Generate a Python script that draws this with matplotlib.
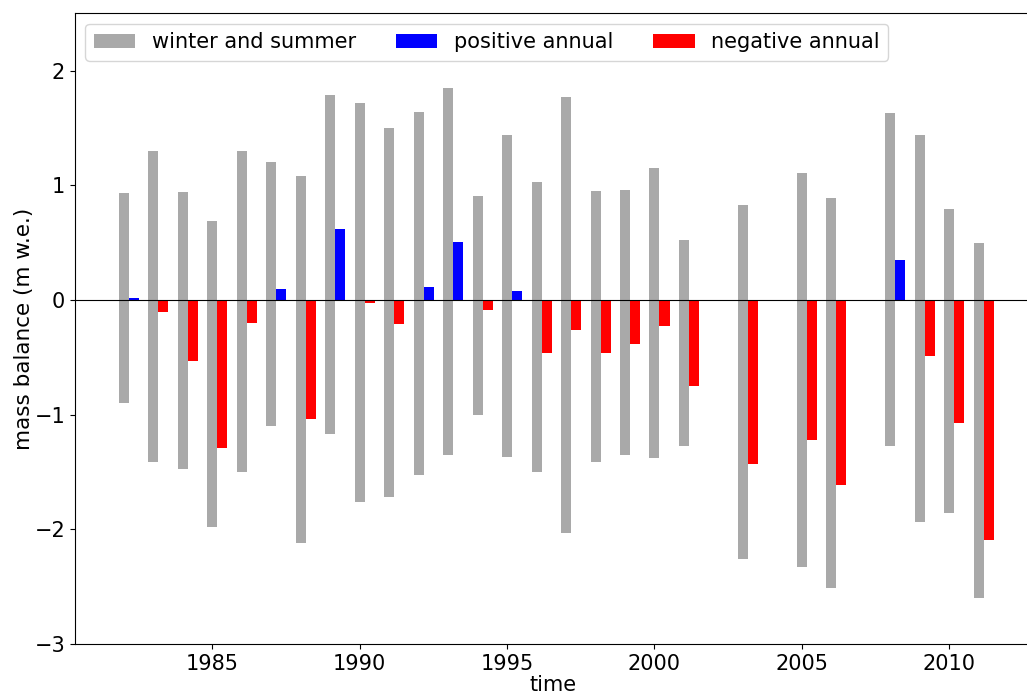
import matplotlib
matplotlib.use("Agg")
import matplotlib.pyplot as plt
import numpy as np

years = [1982, 1983, 1984, 1985, 1986, 1987, 1988, 1989, 1990, 1991, 1992, 1993, 1994,
         1995, 1996, 1997, 1998, 1999, 2000, 2001, 2003, 2005, 2006, 2008, 2009, 2010, 2011]
winter = [0.93, 1.30, 0.94, 0.69, 1.30, 1.20, 1.08, 1.79, 1.72, 1.50, 1.64, 1.85, 0.91,
          1.44, 1.03, 1.77, 0.95, 0.96, 1.15, 0.52, 0.83, 1.11, 0.89, 1.63, 1.44, 0.79, 0.50]
summer = [-0.90, -1.41, -1.47, -1.98, -1.50, -1.10, -2.12, -1.17, -1.76, -1.72, -1.53, -1.35, -1.00,
          -1.37, -1.50, -2.03, -1.41, -1.35, -1.38, -1.27, -2.26, -2.33, -2.51, -1.27, -1.94, -1.86, -2.60]
annual = [0.02, -0.10, -0.53, -1.29, -0.20, 0.10, -1.04, 0.62, -0.03, -0.21, 0.11, 0.51, -0.09,
          0.08, -0.46, -0.26, -0.46, -0.38, -0.23, -0.75, -1.43, -1.22, -1.61, 0.35, -0.49, -1.07, -2.09]

years_a = np.array(years, dtype=float)
winter_a = np.array(winter)
summer_a = np.array(summer)
annual_a = np.array(annual)

fig = plt.figure(figsize=(10.27, 6.96), dpi=100)
ax = fig.add_axes([0.073, 0.0747, 0.932, 0.906])

w = 0.34
ax.bar(years_a, winter_a, width=w, color='darkgray', label='winter and summer')
ax.bar(years_a, summer_a, width=w, color='darkgray')
pos = annual_a >= 0
ax.bar(years_a[pos] + w, annual_a[pos], width=w, color='blue', label='positive annual')
ax.bar(years_a[~pos] + w, annual_a[~pos], width=w, color='red', label='negative annual')
ax.axhline(0, color='black', lw=0.8)

ax.set_xlim(1980.343, 2012.81)
ax.set_ylim(-3, 2.5)
ax.set_yticks([-3, -2, -1, 0, 1, 2])
ax.set_xticks([1985, 1990, 1995, 2000, 2005, 2010])
ax.tick_params(labelsize=15)
ax.set_xlabel('time', fontsize=15, labelpad=1)
ax.set_ylabel('mass balance (m w.e.)', fontsize=15.5, labelpad=0)
ax.legend(loc='upper left', ncol=3, fontsize=15, borderaxespad=0.5, columnspacing=1.9)

fig.savefig('out.png', dpi=100)
